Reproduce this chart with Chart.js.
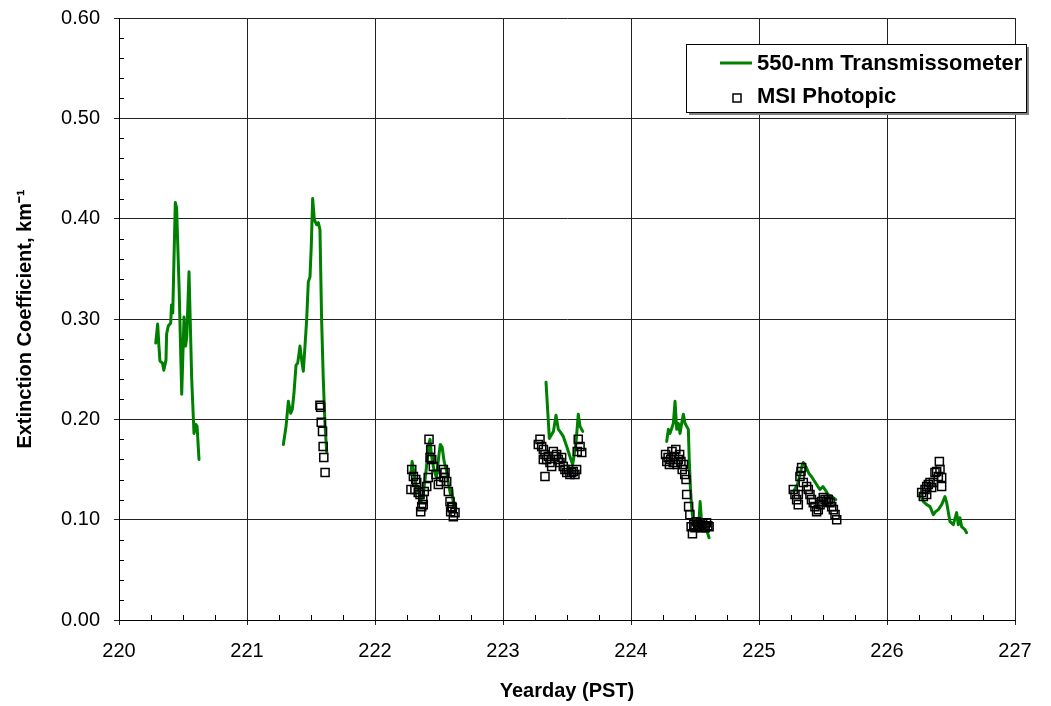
<!DOCTYPE html>
<html>
<head>
<meta charset="utf-8">
<script src="https://cdn.jsdelivr.net/npm/chart.js@4"></script>
<style>
  body { margin: 0; background: #fff; }
</style>
</head>
<body>
<canvas id="myChart" width="1051" height="706"></canvas>
<script>
// 550-nm transmissometer, one run per yearday: [yearday, extinction]
const trans220 = [[220.287,0.276],[220.302,0.295],[220.312,0.273],[220.32,0.258],[220.34,0.256],[220.35,0.249],[220.367,0.259],[220.372,0.285],[220.385,0.293],[220.404,0.296],[220.41,0.314],[220.42,0.306],[220.43,0.362],[220.44,0.416],[220.45,0.411],[220.47,0.329],[220.49,0.225],[220.508,0.302],[220.52,0.273],[220.53,0.283],[220.547,0.347],[220.555,0.306],[220.568,0.240],[220.586,0.186],[220.6,0.195],[220.61,0.193],[220.625,0.160]];
const trans221 = [[221.284,0.175],[221.305,0.193],[221.323,0.218],[221.341,0.206],[221.354,0.210],[221.367,0.226],[221.383,0.254],[221.396,0.256],[221.414,0.273],[221.427,0.259],[221.44,0.248],[221.453,0.273],[221.466,0.299],[221.479,0.337],[221.492,0.342],[221.502,0.372],[221.513,0.420],[221.526,0.399],[221.544,0.394],[221.557,0.396],[221.57,0.389],[221.583,0.299],[221.596,0.240],[221.61,0.193],[221.623,0.167]];
const trans222 = [[222.28,0.145],[222.29,0.158],[222.30,0.150],[222.32,0.135],[222.34,0.128],[222.36,0.118],[222.38,0.128],[222.40,0.150],[222.42,0.175],[222.43,0.180],[222.44,0.165],[222.46,0.150],[222.48,0.142],[222.50,0.165],[222.51,0.175],[222.525,0.172],[222.54,0.158],[222.56,0.148],[222.575,0.135],[222.59,0.125],[222.60,0.130],[222.615,0.112]];
const trans223 = [[223.336,0.237],[223.362,0.181],[223.38,0.185],[223.394,0.188],[223.414,0.204],[223.432,0.190],[223.445,0.188],[223.471,0.183],[223.498,0.173],[223.523,0.163],[223.544,0.155],[223.57,0.176],[223.588,0.205],[223.602,0.193],[223.623,0.188]];
const trans224 = [[224.279,0.178],[224.292,0.190],[224.305,0.186],[224.318,0.191],[224.331,0.196],[224.344,0.218],[224.357,0.190],[224.37,0.196],[224.383,0.186],[224.396,0.196],[224.409,0.205],[224.422,0.196],[224.435,0.193],[224.448,0.190],[224.455,0.160],[224.465,0.130],[224.475,0.110],[224.49,0.095],[224.51,0.090],[224.53,0.095],[224.54,0.118],[224.55,0.100],[224.57,0.095],[224.59,0.090],[224.61,0.082]];
const trans225 = [[225.27,0.128],[225.30,0.135],[225.32,0.145],[225.335,0.153],[225.346,0.157],[225.37,0.152],[225.39,0.146],[225.41,0.143],[225.44,0.137],[225.46,0.133],[225.477,0.130],[225.50,0.133],[225.516,0.130],[225.54,0.125],[225.56,0.124],[225.58,0.122],[225.60,0.120]];
const trans226 = [[226.26,0.125],[226.284,0.118],[226.31,0.115],[226.336,0.113],[226.362,0.105],[226.38,0.108],[226.401,0.110],[226.427,0.115],[226.453,0.123],[226.466,0.117],[226.492,0.098],[226.518,0.095],[226.544,0.107],[226.557,0.095],[226.57,0.102],[226.583,0.093],[226.609,0.090],[226.622,0.087]];

// MSI photopic samples
const msi221 = [[221.57,0.214],[221.575,0.212],[221.58,0.197],[221.59,0.188],[221.595,0.173],[221.60,0.162],[221.61,0.147]];
const msi222 = [[222.287,0.150],[222.30,0.143],[222.318,0.140],[222.326,0.137],[222.281,0.130],[222.312,0.130],[222.338,0.127],[222.352,0.125],[222.373,0.120],[222.365,0.113],[222.377,0.115],[222.357,0.108],[222.385,0.128],[222.404,0.133],[222.416,0.142],[222.43,0.162],[222.422,0.180],[222.435,0.170],[222.443,0.160],[222.456,0.153],[222.477,0.145],[222.495,0.135],[222.513,0.138],[222.534,0.150],[222.547,0.147],[222.539,0.142],[222.56,0.138],[222.573,0.128],[222.586,0.118],[222.599,0.113],[222.591,0.108],[222.612,0.103],[222.625,0.107],[222.604,0.112]];
const msi223 = [[223.289,0.180],[223.276,0.175],[223.302,0.173],[223.315,0.170],[223.328,0.165],[223.315,0.160],[223.341,0.160],[223.354,0.163],[223.367,0.157],[223.38,0.153],[223.393,0.168],[223.406,0.163],[223.419,0.165],[223.432,0.160],[223.445,0.157],[223.458,0.162],[223.471,0.153],[223.484,0.150],[223.498,0.147],[223.51,0.150],[223.523,0.145],[223.536,0.147],[223.549,0.148],[223.562,0.145],[223.575,0.150],[223.588,0.180],[223.602,0.173],[223.615,0.167],[223.58,0.168],[223.328,0.143]];
const msi224 = [[224.27,0.165],[224.28,0.158],[224.29,0.162],[224.30,0.155],[224.31,0.160],[224.32,0.168],[224.33,0.157],[224.34,0.163],[224.35,0.170],[224.36,0.155],[224.37,0.160],[224.38,0.165],[224.39,0.158],[224.40,0.150],[224.41,0.155],[224.42,0.145],[224.43,0.140],[224.435,0.125],[224.45,0.113],[224.46,0.105],[224.47,0.093],[224.48,0.086],[224.49,0.095],[224.50,0.092],[224.51,0.098],[224.52,0.095],[224.53,0.093],[224.54,0.097],[224.55,0.092],[224.56,0.096],[224.57,0.094],[224.58,0.092],[224.59,0.097],[224.60,0.094],[224.61,0.093]];
const msi225 = [[225.268,0.130],[225.281,0.125],[225.294,0.120],[225.307,0.115],[225.307,0.125],[225.32,0.143],[225.328,0.148],[225.333,0.152],[225.346,0.137],[225.372,0.133],[225.385,0.130],[225.398,0.125],[225.41,0.120],[225.424,0.117],[225.437,0.113],[225.45,0.108],[225.463,0.110],[225.477,0.115],[225.49,0.118],[225.502,0.122],[225.516,0.120],[225.529,0.118],[225.541,0.120],[225.555,0.117],[225.568,0.113],[225.581,0.110],[225.594,0.105],[225.607,0.100]];
const msi226 = [[226.271,0.127],[226.284,0.123],[226.297,0.130],[226.31,0.133],[226.323,0.135],[226.336,0.137],[226.349,0.132],[226.362,0.137],[226.375,0.147],[226.388,0.148],[226.401,0.143],[226.414,0.150],[226.409,0.158],[226.427,0.142],[226.427,0.133],[226.31,0.125]];

const yTicks = [0, 0.1, 0.2, 0.3, 0.4, 0.5, 0.6];
const xTicks = [220, 221, 222, 223, 224, 225, 226, 227];

const FONT = '"Liberation Sans", Arial, sans-serif';

// one line with a break between days
const transRuns = [trans220, trans221, trans222, trans223, trans224, trans225, trans226];
const transData = [];
transRuns.forEach(run => {
  run.forEach(p => transData.push({ x: p[0], y: p[1] }));
  transData.push({ x: run[run.length - 1][0] + 0.05, y: null });
});
const msiData = [msi221, msi222, msi223, msi224, msi225, msi226]
  .flat()
  .map(p => ({ x: p[0], y: p[1] }));

// small inside ticks, like the spreadsheet original
const minorTicks = {
  id: "minorTicks",
  afterDraw(chart) {
    const { ctx, chartArea, scales } = chart;
    ctx.save();
    ctx.strokeStyle = "#000";
    ctx.lineWidth = 1;
    ctx.beginPath();
    for (let i = 1; i < 30; i++) {
      if (i % 5 === 0) continue;
      const y = Math.round(scales.y.getPixelForValue(i * 0.02)) + 0.5;
      ctx.moveTo(chartArea.left, y);
      ctx.lineTo(chartArea.left + 5, y);
    }
    for (let i = 1; i < 28; i++) {
      if (i % 4 === 0) continue;
      const x = Math.round(scales.x.getPixelForValue(220 + i * 0.25)) + 0.5;
      ctx.moveTo(x, chartArea.bottom);
      ctx.lineTo(x, chartArea.bottom - 5);
    }
    ctx.stroke();
    ctx.restore();
  },
};

// boxed legend inside the plot, top right
const boxLegend = {
  id: "boxLegend",
  afterDraw(chart) {
    const { ctx } = chart;
    const line = chart.data.datasets[1];
    const pts = chart.data.datasets[0];
    const bx = 686, by = 44, bw = 340, bh = 68;
    ctx.save();
    ctx.fillStyle = "#808080";
    ctx.fillRect(bx + 3, by + 3, bw, bh);
    ctx.fillStyle = "#fff";
    ctx.fillRect(bx, by, bw, bh);
    ctx.strokeStyle = "#000";
    ctx.lineWidth = 1;
    ctx.strokeRect(bx + 0.5, by + 0.5, bw, bh);

    ctx.strokeStyle = line.borderColor;
    ctx.lineWidth = 3;
    ctx.beginPath();
    ctx.moveTo(720, 63);
    ctx.lineTo(752, 63);
    ctx.stroke();

    ctx.strokeStyle = pts.borderColor;
    ctx.lineWidth = 1.5;
    ctx.strokeRect(733, 94, 8, 8);

    ctx.fillStyle = "#000";
    ctx.font = "bold 22px " + FONT;
    ctx.textBaseline = "middle";
    ctx.fillText(line.label, 757, 64);
    ctx.fillText(pts.label, 757, 97);
    ctx.restore();
  },
};

const noScalePad = s => {
  s.paddingTop = 0;
  s.paddingBottom = 0;
  s.paddingLeft = 0;
  s.paddingRight = 0;
};

new Chart(document.getElementById("myChart"), {
  type: "scatter",
  data: {
    datasets: [
      {
        label: "MSI Photopic",
        data: msiData,
        pointStyle: "rect",
        pointRadius: 5.7,
        pointBorderWidth: 1.5,
        borderColor: "#000",
        backgroundColor: "rgba(0,0,0,0)",
        order: 0,
      },
      {
        label: "550-nm Transmissometer",
        data: transData,
        showLine: true,
        spanGaps: false,
        borderColor: "#008000",
        borderWidth: 3,
        borderJoinStyle: "round",
        borderCapStyle: "round",
        pointRadius: 0,
        order: 1,
      },
    ],
  },
  options: {
    responsive: false,
    animation: false,
    layout: { padding: { top: 18, right: 36, left: 0, bottom: 0 } },
    plugins: {
      legend: { display: false },
      tooltip: { enabled: false },
    },
    scales: {
      x: {
        type: "linear",
        min: xTicks[0],
        max: xTicks[xTicks.length - 1],
        afterBuildTicks: s => { s.ticks = xTicks.map(v => ({ value: v })); },
        afterFit: s => { s.height = 86; noScalePad(s); },
        ticks: {
          color: "#000",
          font: { family: FONT, size: 20 },
          padding: 14,
          maxRotation: 0,
        },
        grid: { color: "#222", tickColor: "#222", tickLength: 5 },
        border: { color: "#000" },
        title: {
          display: true,
          text: "Yearday (PST)",
          color: "#000",
          font: { family: FONT, size: 20, weight: "bold" },
          padding: { top: 0, bottom: 3 },
        },
      },
      y: {
        min: yTicks[0],
        max: yTicks[yTicks.length - 1],
        afterBuildTicks: s => { s.ticks = yTicks.map(v => ({ value: v })); },
        afterFit: s => { s.width = 119; noScalePad(s); },
        ticks: {
          color: "#000",
          font: { family: FONT, size: 20 },
          padding: 14,
          callback: v => v.toFixed(2),
        },
        grid: { color: "#222", tickColor: "#222", tickLength: 5 },
        border: { color: "#000" },
        title: {
          display: true,
          text: "Extinction Coefficient, km⁻¹",
          color: "#000",
          font: { family: FONT, size: 20, weight: "bold" },
          padding: { top: 13, bottom: 0 },
        },
      },
    },
  },
  plugins: [minorTicks, boxLegend],
});
</script>
</body>
</html>
